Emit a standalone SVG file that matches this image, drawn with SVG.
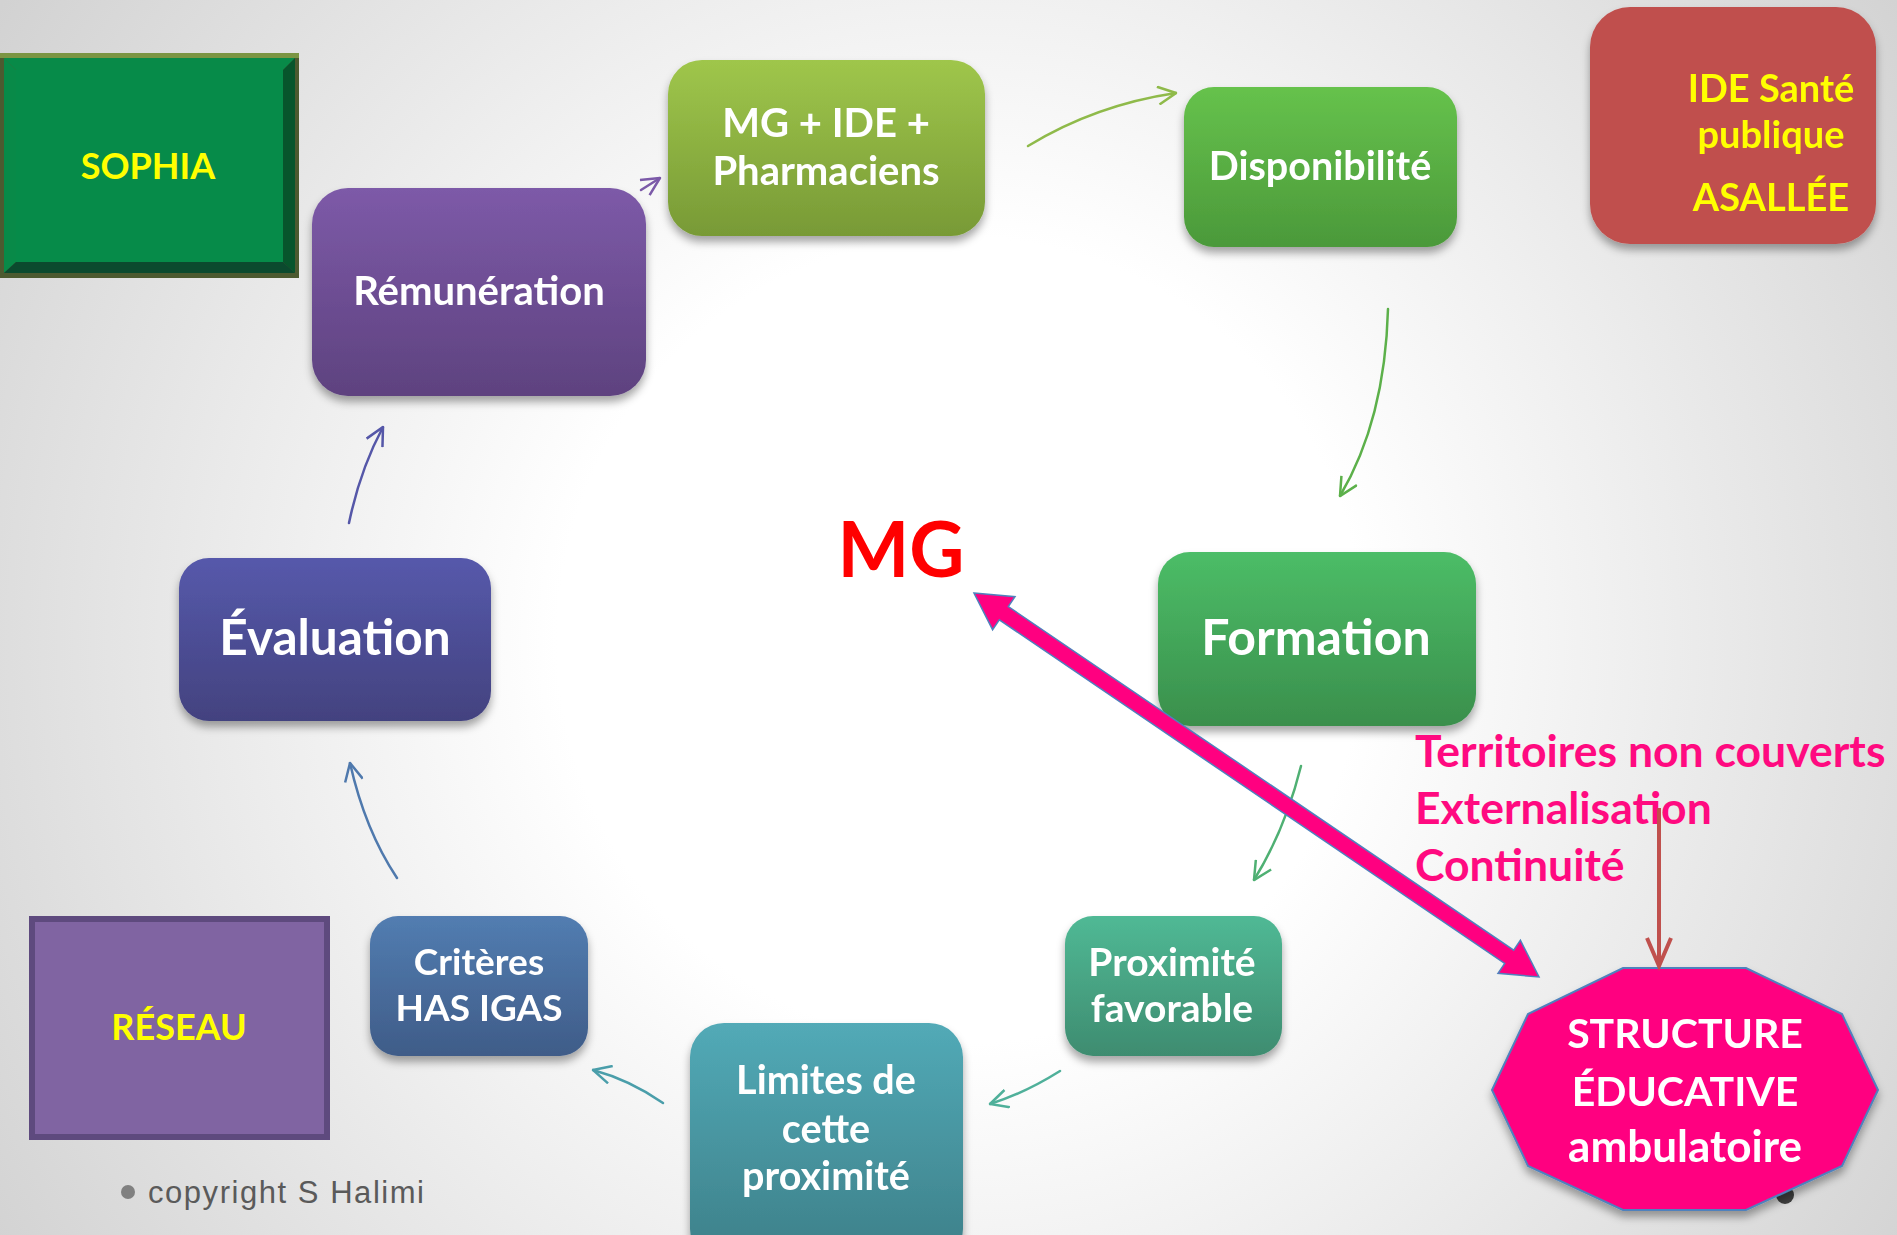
<svg xmlns="http://www.w3.org/2000/svg" width="1897" height="1235" viewBox="0 0 1897 1235">
<defs>
<style>
.t{font-family:Lato,"Open Sans","Liberation Sans",sans-serif;font-weight:700;text-anchor:middle;fill:#ffffff}
.y{fill:#ffff00}
.c{fill:none;stroke-width:2.5;stroke-linecap:round}
.pk{font-family:Lato,"Open Sans","Liberation Sans",sans-serif;font-weight:700;fill:#ff0a80;font-size:44.5px}
</style>
<radialGradient id="bg" cx="960" cy="640" r="1150" gradientUnits="userSpaceOnUse">
<stop offset="0.35" stop-color="#ffffff"/>
<stop offset="1" stop-color="#d2d2d2"/>
</radialGradient>
<linearGradient id="gRem" x1="0" y1="0" x2="0" y2="1"><stop offset="0" stop-color="#7d5aa8"/><stop offset="1" stop-color="#5e427f"/></linearGradient>
<linearGradient id="gMg" x1="0" y1="0" x2="0" y2="1"><stop offset="0" stop-color="#9fc64b"/><stop offset="1" stop-color="#789a36"/></linearGradient>
<linearGradient id="gDis" x1="0" y1="0" x2="0" y2="1"><stop offset="0" stop-color="#66c24c"/><stop offset="1" stop-color="#4b993a"/></linearGradient>
<linearGradient id="gFor" x1="0" y1="0" x2="0" y2="1"><stop offset="0" stop-color="#4cbd67"/><stop offset="1" stop-color="#3a8f4c"/></linearGradient>
<linearGradient id="gEva" x1="0" y1="0" x2="0" y2="1"><stop offset="0" stop-color="#5659ab"/><stop offset="1" stop-color="#43427f"/></linearGradient>
<linearGradient id="gCri" x1="0" y1="0" x2="0" y2="1"><stop offset="0" stop-color="#527db1"/><stop offset="1" stop-color="#3f5c88"/></linearGradient>
<linearGradient id="gLim" x1="0" y1="0" x2="0" y2="1"><stop offset="0" stop-color="#52aab7"/><stop offset="1" stop-color="#3d7f88"/></linearGradient>
<linearGradient id="gPro" x1="0" y1="0" x2="0" y2="1"><stop offset="0" stop-color="#50b995"/><stop offset="1" stop-color="#3e8c70"/></linearGradient>
<filter id="sh" x="-10%" y="-10%" width="120%" height="130%">
<feDropShadow dx="0" dy="6" stdDeviation="4" flood-color="#000000" flood-opacity="0.35"/>
</filter>
<marker id="mPur" viewBox="0 0 20 20" refX="19" refY="10" markerWidth="20" markerHeight="20" markerUnits="userSpaceOnUse" orient="auto"><path d="M1,1 L19,10 L1,19" fill="none" stroke="#7b59a8" stroke-width="2.5"/></marker>
<marker id="mLg" viewBox="0 0 20 20" refX="19" refY="10" markerWidth="20" markerHeight="20" markerUnits="userSpaceOnUse" orient="auto"><path d="M1,1 L19,10 L1,19" fill="none" stroke="#8fba4a" stroke-width="2.5"/></marker>
<marker id="mG" viewBox="0 0 20 20" refX="19" refY="10" markerWidth="20" markerHeight="20" markerUnits="userSpaceOnUse" orient="auto"><path d="M1,1 L19,10 L1,19" fill="none" stroke="#5cb04a" stroke-width="2.5"/></marker>
<marker id="mGt" viewBox="0 0 20 20" refX="19" refY="10" markerWidth="20" markerHeight="20" markerUnits="userSpaceOnUse" orient="auto"><path d="M1,1 L19,10 L1,19" fill="none" stroke="#4fb073" stroke-width="2.5"/></marker>
<marker id="mTg" viewBox="0 0 20 20" refX="19" refY="10" markerWidth="20" markerHeight="20" markerUnits="userSpaceOnUse" orient="auto"><path d="M1,1 L19,10 L1,19" fill="none" stroke="#4fb09a" stroke-width="2.5"/></marker>
<marker id="mTe" viewBox="0 0 20 20" refX="19" refY="10" markerWidth="20" markerHeight="20" markerUnits="userSpaceOnUse" orient="auto"><path d="M1,1 L19,10 L1,19" fill="none" stroke="#4a9eaa" stroke-width="2.5"/></marker>
<marker id="mBl" viewBox="0 0 20 20" refX="19" refY="10" markerWidth="20" markerHeight="20" markerUnits="userSpaceOnUse" orient="auto"><path d="M1,1 L19,10 L1,19" fill="none" stroke="#4f79ad" stroke-width="2.5"/></marker>
<marker id="mIn" viewBox="0 0 20 20" refX="19" refY="10" markerWidth="20" markerHeight="20" markerUnits="userSpaceOnUse" orient="auto"><path d="M1,1 L19,10 L1,19" fill="none" stroke="#5557a8" stroke-width="2.5"/></marker>
</defs>

<rect x="0" y="0" width="1897" height="1235" fill="url(#bg)"/>

<g id="sophia">
<rect x="0" y="53" width="299" height="225" fill="#4c5a30"/>
<rect x="0" y="53" width="299" height="5" fill="#7b9543"/>
<polygon points="4,58 295,58 283,70 16,70" fill="#088a48"/>
<polygon points="4,58 16,70 16,262 4,273" fill="#088a48"/>
<polygon points="295,58 295,273 283,262 283,70" fill="#07552c"/>
<polygon points="4,273 16,262 283,262 295,273" fill="#0b4a2e"/>
<rect x="16" y="70" width="267" height="192" fill="#068b49"/>
<text class="t y" x="148" y="179" font-size="36">SOPHIA</text>
</g>

<g id="remuneration" filter="url(#sh)">
<rect x="312" y="188" width="334" height="208" rx="36" fill="url(#gRem)"/>
<text class="t" x="479" y="305" font-size="40">Rémunération</text>
</g>

<g id="mg-ide-pharmaciens" filter="url(#sh)">
<rect x="668" y="60" width="317" height="176" rx="34" fill="url(#gMg)"/>
<text class="t" x="826" y="137" font-size="40">MG + IDE +</text>
<text class="t" x="826" y="185" font-size="40">Pharmaciens</text>
</g>

<g id="disponibilite" filter="url(#sh)">
<rect x="1184" y="87" width="273" height="160" rx="30" fill="url(#gDis)"/>
<text class="t" x="1320" y="180" font-size="39.5">Disponibilité</text>
</g>

<g id="ide-sante" filter="url(#sh)">
<rect x="1590" y="7" width="286" height="237" rx="40" fill="#c0504d"/>
<text class="t y" x="1771" y="102" font-size="38">IDE Santé</text>
<text class="t y" x="1771" y="148" font-size="38">publique</text>
<text class="t y" x="1771" y="211" font-size="38">ASALLÉE</text>
</g>

<g id="evaluation" filter="url(#sh)">
<rect x="179" y="558" width="312" height="163" rx="30" fill="url(#gEva)"/>
<text class="t" x="335" y="655" font-size="49.5">Évaluation</text>
</g>

<g id="formation" filter="url(#sh)">
<rect x="1158" y="552" width="318" height="174" rx="32" fill="url(#gFor)"/>
<text class="t" x="1316" y="655" font-size="50">Formation</text>
</g>

<g id="mg">
<text class="t" x="901" y="577" font-size="76" style="fill:#ff0000">MG</text>
</g>

<g id="criteres" filter="url(#sh)">
<rect x="370" y="916" width="218" height="140" rx="28" fill="url(#gCri)"/>
<text class="t" x="479" y="975" font-size="37">Critères</text>
<text class="t" x="479" y="1021" font-size="37">HAS IGAS</text>
</g>

<g id="reseau">
<rect x="32" y="919" width="295" height="218" fill="#8064a2" stroke="#5e4a7e" stroke-width="6"/>
<text class="t y" x="179" y="1040" font-size="36">RÉSEAU</text>
</g>

<g id="limites" filter="url(#sh)">
<rect x="690" y="1023" width="273" height="240" rx="34" fill="url(#gLim)"/>
<text class="t" x="826" y="1094" font-size="39.5">Limites de</text>
<text class="t" x="826" y="1143" font-size="39.5">cette</text>
<text class="t" x="826" y="1190" font-size="39.5">proximité</text>
</g>

<g id="proximite" filter="url(#sh)">
<rect x="1065" y="916" width="217" height="140" rx="28" fill="url(#gPro)"/>
<text class="t" x="1172" y="976" font-size="39">Proximité</text>
<text class="t" x="1172" y="1022" font-size="39">favorable</text>
</g>

<circle cx="1785" cy="1195" r="9" fill="#404040"/>

<g id="structure" filter="url(#sh)">
<polygon points="1623,968 1746,968 1842,1014 1878,1090 1842,1166 1746,1210 1623,1210 1528,1166 1492,1090 1528,1014" fill="#ff0080" stroke="#4f81bd" stroke-width="2"/>
<text class="t" x="1685" y="1048" font-size="41">STRUCTURE</text>
<text class="t" x="1685" y="1106" font-size="41">ÉDUCATIVE</text>
<text class="t" x="1685" y="1162" font-size="44">ambulatoire</text>
</g>

<g id="labels">
<text class="pk" x="1415" y="767">Territoires non couverts</text>
<text class="pk" x="1415" y="824">Externalisation</text>
<text class="pk" x="1415" y="881">Continuité</text>
</g>

<g id="copyright">
<circle cx="128" cy="1192" r="7" fill="#808080"/>
<text x="148" y="1203" font-family="'Liberation Sans',Arial,sans-serif" font-size="31" fill="#5a5a5a" textLength="276" lengthAdjust="spacing">copyright S Halimi</text>
</g>

<g id="connectors">
<path class="c" d="M641,190 L660,178" stroke="#7b59a8" marker-end="url(#mPur)"/>
<path class="c" d="M1028,146 Q1095,105 1176,93" stroke="#8fba4a" marker-end="url(#mLg)"/>
<path class="c" d="M1388,309 Q1385,420 1340,496" stroke="#5cb04a" marker-end="url(#mG)"/>
<path class="c" d="M1301,766 Q1285,830 1254,880" stroke="#4fb073" marker-end="url(#mGt)"/>
<path class="c" d="M1060,1071 Q1025,1093 990,1104" stroke="#4fb09a" marker-end="url(#mTg)"/>
<path class="c" d="M663,1103 Q630,1080 593,1070" stroke="#4a9eaa" marker-end="url(#mTe)"/>
<path class="c" d="M397,878 Q365,830 350,763" stroke="#4f79ad" marker-end="url(#mBl)"/>
<path class="c" d="M349,523 Q360,470 383,427" stroke="#5557a8" marker-end="url(#mIn)"/>
<polygon points="974,593 1015,596.7 1008.3,606.6 1513.7,950.2 1520.4,940.3 1539,977 1498,973.3 1504.7,963.4 999.3,619.8 992.6,629.7" fill="#ff0080" stroke="#4f81bd" stroke-width="1.5" stroke-linejoin="miter"/>
<line x1="1659" y1="808" x2="1659" y2="962" stroke="#c0504d" stroke-width="4"/>
<path d="M1647,938 L1659,966 L1671,938" fill="none" stroke="#c0504d" stroke-width="4"/>
</g>
</svg>
